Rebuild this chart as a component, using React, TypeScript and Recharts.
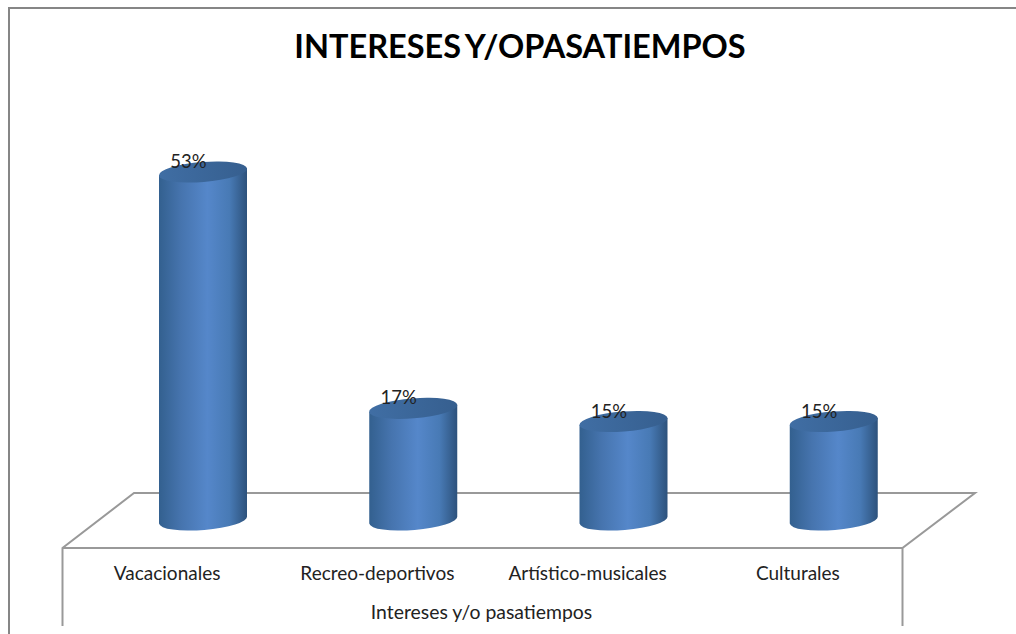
import { BarChart, Bar, XAxis, YAxis, LabelList, Label } from 'recharts'

const categorias = ['Vacacionales', 'Recreo-deportivos', 'Artístico-musicales', 'Culturales']
const porcentajes = [53, 17, 15, 15]
const datos = categorias.map((nombre, i) => ({ nombre, valor: porcentajes[i] }))

const TITULO = 'INTERESES Y/OPASATIEMPOS'
const EJE_X = 'Intereses y/o pasatiempos'
const FUENTE = 'Lato, "Open Sans", sans-serif'
const GRIS = '#999999'
const DESPLAZA = -36 // the category labels sit on the front edge of the floor

function Cilindro(props: any) {
  const { x, y, width, height } = props
  const rx = width / 2
  const ry = 10
  const rot = -4.5
  const cx = x + rx
  const inc = 3.6
  const base = y + height
  const cuerpo = `M${x},${y + inc} L${x + width},${y - inc} L${x + width},${base - inc} A${rx},${ry} ${rot} 0 1 ${x},${base + inc} Z`
  return (
    <g>
      <path d={cuerpo} fill="url(#cuerpoCilindro)" />
      <ellipse cx={cx} cy={y} rx={rx + 0.2} ry={ry} fill="url(#tapaCilindro)" transform={`rotate(${rot} ${cx} ${y})`} />
    </g>
  )
}

function EtiquetaValor(props: any) {
  const { x, y, width, value } = props
  return (
    <text x={x + width / 2 - 14.5} y={y - 4} textAnchor="middle" fontFamily={FUENTE} fontSize={18.5} fill="#222">
      {value}%
    </text>
  )
}

function TickCategoria(props: any) {
  const { x, y, payload } = props
  return (
    <text x={x + DESPLAZA} y={y} textAnchor="middle" fontFamily={FUENTE} fontSize={19} fill="#222">
      {payload.value}
    </text>
  )
}

export default function App() {
  return (
    <div style={{ position: 'absolute', left: 0, top: 0, width: 1016, height: 634, background: '#fff' }}>
      <BarChart
        width={1016}
        height={634}
        data={datos}
        barSize={88}
        margin={{ top: 126, right: 77, bottom: 0, left: 98 }}
      >
        <defs>
          <linearGradient id="cuerpoCilindro" x1="0" y1="0" x2="1" y2="0">
            <stop offset="0" stopColor="#33608f" />
            <stop offset="0.25" stopColor="#4674ae" />
            <stop offset="0.55" stopColor="#5587ca" />
            <stop offset="0.8" stopColor="#487ab5" />
            <stop offset="1" stopColor="#2d527c" />
          </linearGradient>
          <linearGradient id="tapaCilindro" x1="0" y1="0" x2="1" y2="0">
            <stop offset="0" stopColor="#406ea4" />
            <stop offset="1" stopColor="#365f8f" />
          </linearGradient>
        </defs>
        <path d="M9,634 L9,8 L1016,8" fill="none" stroke="#868686" strokeWidth={2} />
        <path d="M62.5,626 L62.5,548 L134,493 L975,493 L902.5,548 L902.5,626 M62.5,548 L902.5,548" fill="none" stroke={GRIS} strokeWidth={2} />
        <text x={520} y={58} textAnchor="middle" fontFamily={FUENTE} fontWeight={700} fontSize={32.5} wordSpacing={-3} fill="#000">
          {TITULO}
        </text>
        <XAxis
          dataKey="nombre"
          axisLine={false}
          tickLine={false}
          tick={<TickCategoria />}
          tickMargin={54}
          height={114}
          interval={0}
        >
          <Label
            content={() => (
              <text x={481.5} y={619} textAnchor="middle" fontFamily={FUENTE} fontSize={19.4} fill="#222">
                {EJE_X}
              </text>
            )}
          />
        </XAxis>
        <YAxis hide domain={[0, 60]} />
        <Bar dataKey="valor" shape={<Cilindro />} isAnimationActive={false}>
          <LabelList dataKey="valor" content={<EtiquetaValor />} />
        </Bar>
      </BarChart>
    </div>
  )
}
